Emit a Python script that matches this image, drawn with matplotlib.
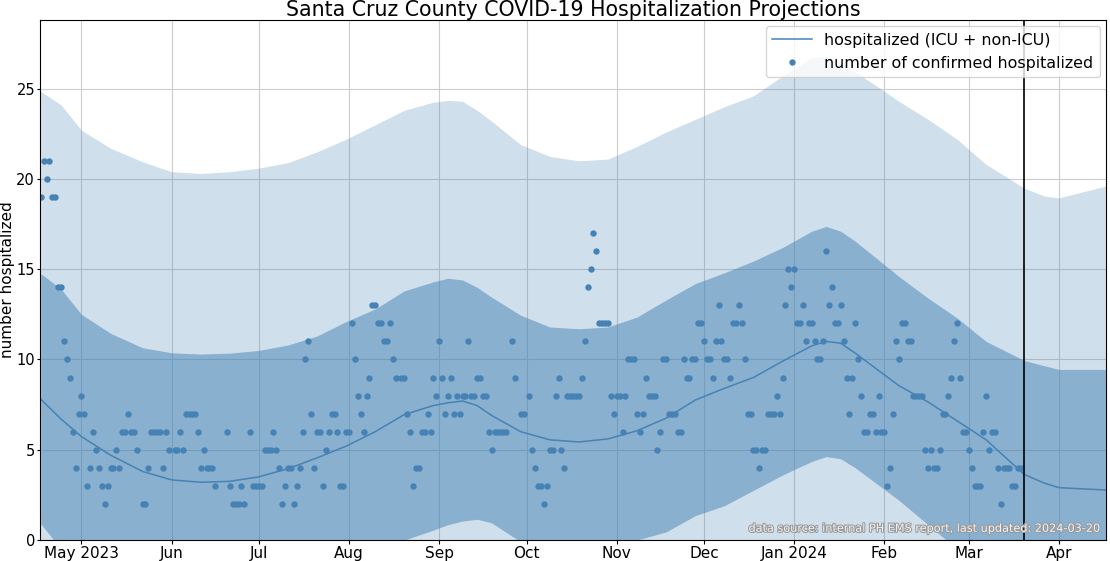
#!/usr/bin/env python3
"""
Santa Cruz County COVID-19 hospitalization projections.
Daily confirmed hospitalized (dots) plus the projected median and the
two uncertainty bands, with a vertical marker on the last update date.
"""
import matplotlib

matplotlib.use("Agg")
import matplotlib.dates as mdates  # noqa: E402
import matplotlib.patheffects as pe  # noqa: E402
import matplotlib.pyplot as plt  # noqa: E402
import numpy as np  # noqa: E402
import pandas as pd  # noqa: E402

nan = np.nan

# ---- observed: one value per day starting 2023-04-17 (nan = no report) ----
INICIO_OBS = "2023-04-17"
OBSERVADOS = [
    19, 21, 20, 21, 19, 19, 14, 14, 11, 10,
    9, 6, 4, 7, 8, 7, 3, 4, 6, 5,
    4, 3, 2, 3, 4, 4, 5, 4, 6, 6,
    7, 6, 6, 5, nan, 2, 2, 4, 6, 6,
    6, 6, 4, 6, 5, nan, 5, 5, 6, 5,
    7, 7, 7, 7, 6, 4, 5, 4, 4, 4,
    3, nan, nan, nan, 6, 3, 2, 2, 2, 3,
    2, nan, 6, 3, 3, 3, 3, 5, 5, 5,
    6, 5, 4, 2, 3, 4, 4, 2, 3, 4,
    6, 10, 11, 7, 4, 6, 6, 3, 5, 6,
    7, 7, 6, 3, 3, 6, 6, 12, 10, 8,
    7, 6, 8, 9, 13, 13, 12, 12, 11, 11,
    12, 10, 9, nan, 9, 9, 7, 6, 3, 4,
    4, 6, 6, 7, 6, 9, 8, 11, 9, 7,
    8, 9, 7, 8, 7, 8, 8, 11, 8, 8,
    9, 9, 8, 8, 6, 5, 6, 6, 6, 6,
    6, nan, 11, 9, nan, 7, 7, nan, 8, 5,
    4, 3, 3, 2, 3, 5, 5, 8, 9, 5,
    4, 8, 8, 8, 8, 8, 9, 11, 14, 15,
    17, 16, 12, 12, 12, 12, 8, 7, 8, 8,
    6, 8, 10, 10, 10, 7, 6, 7, 9, 8,
    8, 8, 5, 6, 10, 10, 7, 7, 7, 6,
    6, 10, 9, 9, 10, 10, 12, 12, 11, 10,
    10, 9, 11, 13, 11, 10, 10, 9, 12, 12,
    13, 12, 10, 7, 7, 5, 5, 4, 5, 5,
    7, 7, 7, 8, 7, 9, 13, 15, 14, 15,
    12, 12, 13, 11, 12, 12, 11, 10, 10, 11,
    16, 13, 14, 12, 12, 13, 11, 9, 7, 9,
    12, 10, 8, 6, 6, 7, 7, 6, 8, 6,
    6, 3, 4, 7, 11, 10, 12, 12, 11, 11,
    8, 8, 8, 8, 5, 4, 5, 4, 4, 5,
    7, 7, 8, 9, 11, 12, 9, 6, 6, 5,
    4, 3, 3, 3, 6, 8, 5, 6, 6, 4,
    2, 4, 4, 4, 3, 3, 4, 4,
]

# ---- projection (read at these dates) ----
FECHAS_PROY = [
    "2023-04-17", "2023-04-24", "2023-05-01", "2023-05-11", "2023-05-22",
    "2023-06-01", "2023-06-11", "2023-06-21", "2023-07-01", "2023-07-11",
    "2023-07-21", "2023-07-31", "2023-08-10", "2023-08-20", "2023-08-30",
    "2023-09-04", "2023-09-09", "2023-09-14", "2023-09-19", "2023-09-29",
    "2023-10-09", "2023-10-19", "2023-10-29", "2023-11-08", "2023-11-18",
    "2023-11-28", "2023-12-08", "2023-12-18", "2023-12-28", "2024-01-07",
    "2024-01-12", "2024-01-17", "2024-01-22", "2024-01-27", "2024-02-06",
    "2024-02-16", "2024-02-26", "2024-03-07", "2024-03-20", "2024-03-27",
    "2024-04-01", "2024-04-17",
]
MEDIANA = [7.8, 6.7, 5.73, 4.7, 3.8, 3.33, 3.2, 3.25, 3.5, 3.95,
           4.55, 5.2, 6.0, 6.95, 7.45, 7.6, 7.7, 7.45, 6.9, 6.0,
           5.55, 5.43, 5.6, 6.05, 6.75, 7.75, 8.4, 9.0, 9.9, 10.75,
           11.0, 10.9, 10.35, 9.75, 8.55, 7.65, 6.6, 5.55, 3.64, 3.15,
           2.9, 2.77]
INT_SUP = [14.76, 13.9, 12.5, 11.45, 10.65, 10.37, 10.3, 10.35, 10.5, 10.8,
           11.3, 12.1, 12.8, 13.8, 14.3, 14.5, 14.4, 14.0, 13.45, 12.45,
           11.8, 11.7, 11.8, 12.35, 13.3, 14.2, 14.8, 15.45, 16.2, 17.1,
           17.37, 17.1, 16.55, 15.9, 14.6, 13.4, 12.3, 11.0, 9.95, 9.65,
           9.45, 9.45]
# below zero the bands are hidden by the axis, kept at 0 there
INT_INF = [0.9, -0.5, 0, 0, 0, 0, 0, 0, 0, 0,
           0, 0, 0, 0, 0.55, 0.85, 1.05, 1.15, 0.95, -0.1,
           0, 0, 0, 0, 0.45, 1.35, 1.9, 2.75, 3.6, 4.35,
           4.62, 4.5, 4.0, 3.4, 2.2, 0.85, -0.5, 0, 0, 0,
           0, 0]
EXT_SUP = [24.85, 24.1, 22.7, 21.7, 20.95, 20.4, 20.3, 20.4, 20.6, 20.9,
           21.5, 22.2, 23.0, 23.8, 24.25, 24.35, 24.3, 23.8, 23.2, 21.9,
           21.25, 21.0, 21.1, 21.8, 22.6, 23.3, 24.0, 24.6, 25.7, 26.7,
           26.8, 26.4, 25.9, 25.4, 24.3, 23.3, 22.2, 20.8, 19.5, 19.05,
           18.95, 19.6]
EXT_INF = [0] * len(FECHAS_PROY)

ACTUALIZADO = "2024-03-20"
AZUL = "steelblue"


def etiqueta_mes(x, pos=None):
    f = mdates.num2date(x)
    if f.month == 1 or (f.year == 2023 and f.month == 5):
        return f.strftime("%b %Y")
    return f.strftime("%b")


def main():
    obs = np.array(OBSERVADOS, dtype=float)
    f_obs = pd.date_range(INICIO_OBS, periods=len(obs), freq="D")
    f_proy = pd.to_datetime(FECHAS_PROY)

    fig = plt.figure(figsize=(11.1, 5.61), dpi=100)
    ax = fig.add_axes([0.036, 0.0374, 0.9604, 0.9269])

    ax.fill_between(f_proy, EXT_INF, EXT_SUP, color=AZUL, alpha=0.25, lw=0)
    ax.fill_between(f_proy, INT_INF, INT_SUP, color=AZUL, alpha=0.5, lw=0)
    ax.plot(f_proy, MEDIANA, color=AZUL, lw=1.1,
            label="hospitalized (ICU + non-ICU)")
    ax.plot(f_obs, obs, "o", color=AZUL, ms=4.6, mew=0, ls="none",
            label="number of confirmed hospitalized")
    ax.axvline(pd.Timestamp(ACTUALIZADO), color="black", lw=1.2)

    ax.set_xlim(pd.Timestamp(INICIO_OBS) - pd.Timedelta(hours=6),
                pd.Timestamp(INICIO_OBS) + pd.Timedelta(days=366.2))
    ax.set_ylim(0, 28.8)
    ax.set_yticks([0, 5, 10, 15, 20, 25])
    ax.xaxis.set_major_locator(mdates.MonthLocator())
    ax.xaxis.set_major_formatter(plt.FuncFormatter(etiqueta_mes))
    ax.tick_params(axis="x", labelsize=11, length=3, pad=1)
    ax.tick_params(axis="y", labelsize=10.5, length=2.5, pad=1)
    ax.grid(True, color="#cccccc", lw=0.8)
    ax.set_axisbelow(True)

    ax.set_ylabel("number hospitalized", fontsize=11)
    ax.yaxis.set_label_coords(-0.0235, 0.5)
    ax.set_title("Santa Cruz County COVID-19 Hospitalization Projections",
                 fontsize=14.8, pad=3)
    ax.legend(loc="upper right", fontsize=11.4, markerscale=1.0,
              handlelength=2.5, borderaxespad=0.4)

    ax.text(0.995, 0.012,
            f"data source: internal PH EMS report, last updated: {ACTUALIZADO}",
            transform=ax.transAxes, ha="right", va="bottom", fontsize=8.1,
            color="#f2f2f2",
            path_effects=[pe.withStroke(linewidth=1.5, foreground="#9a9a9a")])

    fig.savefig("out.png", dpi=100)
    plt.close(fig)


if __name__ == "__main__":
    main()
